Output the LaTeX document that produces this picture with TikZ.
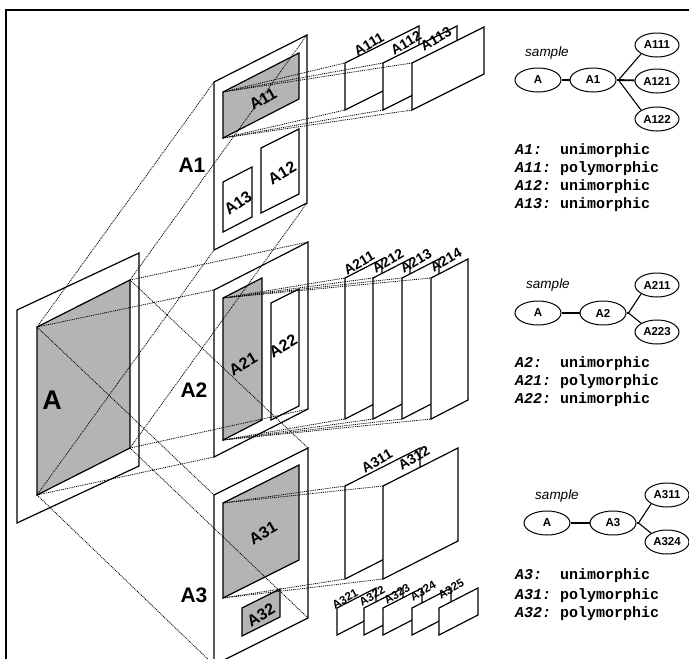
\documentclass[tikz,border=0pt]{standalone}
\usepackage{fontspec}
\setmainfont{Liberation Sans}
\newfontfamily\monofont{Liberation Mono}
\usetikzlibrary{shapes.geometric,calc}
\definecolor{shadegray}{RGB}{180,180,180}

% parallelogram with vertical sides: name, style, x, y (top left), width, rise, height
\newcommand\para[7]{%
  \coordinate (#1-tl) at (#3,#4);
  \coordinate (#1-tr) at ($(#1-tl)+(#5,-#6)$);
  \coordinate (#1-br) at ($(#1-tr)+(0,#7)$);
  \coordinate (#1-bl) at ($(#1-tl)+(0,#7)$);
  \path[#2] (#1-tl) -- (#1-tr) -- (#1-br) -- (#1-bl) -- cycle;}

\tikzset{
  pln/.style={draw=black, line width=1.2pt, fill=white, line join=miter},
  shd/.style={draw=black, line width=1.2pt, fill=shadegray, line join=miter},
  proj/.style={draw=black, line width=0.8pt, dash pattern=on 1pt off 0.9pt},
  hugel/.style={inner sep=0, font=\fontsize{27}{27}\selectfont\bfseries},
  bigl/.style={inner sep=0, font=\fontsize{21}{21}\selectfont\bfseries},
  inl/.style={inner sep=0, rotate=30, font=\fontsize{16}{16}\selectfont\bfseries},
  chl/.style={inner sep=0, rotate=30, font=\fontsize{14}{14}\selectfont\bfseries},
  smallchl/.style={inner sep=0, rotate=30, font=\fontsize{11.5}{11.5}\selectfont\bfseries},
  ell/.style={ellipse, draw, line width=1pt, minimum width=46pt, minimum height=24pt,
    inner sep=0, font=\fontsize{11.5}{11.5}\selectfont\bfseries},
  ellc/.style={ell, minimum width=44pt},
  conn/.style={line width=1.1pt},
  thickconn/.style={line width=1.8pt},
  smp/.style={inner sep=0, font=\fontsize{13.5}{13.5}\selectfont\itshape},
  row/.style={anchor=mid west, inner sep=0, font=\monofont\fontsize{15}{15}\selectfont\bfseries},
}

\begin{document}
\begin{tikzpicture}[x=1pt,y=-1pt]
\useasboundingbox (0,0) rectangle (689,659);
\begin{scope}
\clip (0,0) rectangle (689,659);

% outer frame
\draw[line width=1.6pt] (6,700) -- (6,10) -- (720,10);

% top level plane A
\para{Ap}{pln}{17}{310}{122}{57}{213}
\para{Ag}{shd}{37}{327}{93}{47}{168}

% plane A1
\para{A1p}{pln}{214}{82}{93}{47}{168}
\para{A11}{shd}{223}{92}{76}{39}{46}
\para{A12}{pln}{261}{148}{38}{19}{65}
\para{A13}{pln}{223}{182}{29}{15}{50}

% plane A2
\para{A2p}{pln}{214}{290}{94}{48}{167}
\para{A21}{shd}{223}{298}{39}{20}{142}
\para{A22}{pln}{271}{303}{28}{14}{117}

% plane A3
\para{A3p}{pln}{214}{495}{94}{47}{170}
\para{A31}{shd}{223}{503}{76}{38}{95}
\para{A32}{shd}{242}{608}{38}{19}{28}

% children of A11
\para{A111}{pln}{345}{63}{74}{37}{47}
\para{A112}{pln}{383}{63}{74}{37}{47}
\para{A113}{pln}{412}{63}{72}{36}{47}

% children of A21
\para{A211}{pln}{345}{278}{37}{19}{141}
\para{A212}{pln}{373}{278}{37}{19}{141}
\para{A213}{pln}{402}{278}{37}{19}{141}
\para{A214}{pln}{431}{278}{37}{19}{141}

% children of A31
\para{A311}{pln}{345}{486}{75}{38}{93}
\para{A312}{pln}{383}{486}{75}{38}{93}

% children of A32
\para{A321}{pln}{337}{608}{39}{20}{27}
\para{A322}{pln}{364}{608}{39}{20}{27}
\para{A323}{pln}{383}{608}{39}{20}{27}
\para{A324}{pln}{412}{608}{39}{20}{27}
\para{A325}{pln}{439}{608}{39}{20}{27}

% projections of A onto A1, A2, A3
\foreach \p in {A1p,A2p,A3p}{
  \foreach \c in {tl,tr,br,bl}{
    \draw[proj] (Ag-\c) -- (\p-\c);
  }
}
% projections of the polymorphic regions onto their children
\foreach \k in {A111,A112,A113}{
  \draw[proj] (A11-tl) -- (\k-tl);
  \draw[proj] (A11-bl) -- (\k-bl);
}
\foreach \k in {A211,A212,A213,A214}{
  \draw[proj] (A21-tl) -- (\k-tl);
  \draw[proj] (A21-bl) -- (\k-bl);
}
\foreach \k in {A311,A312}{
  \draw[proj] (A31-tl) -- (\k-tl);
  \draw[proj] (A31-bl) -- (\k-bl);
}

% plane labels
\node[hugel] (lA) at (52,400) {A};
\node[bigl] (lA1) at (192,165) {A1};
\node[bigl] (lA2) at (194,390) {A2};
\node[bigl] (lA3) at (194,595) {A3};
\node[inl] (lA11) at (263,99) {A11};
\node[inl] (lA12) at (282,173) {A12};
\node[inl, rotate=5] (lA13) at (238,203) {A13};
\node[inl] (lA21) at (243,364) {A21};
\node[inl] (lA22) at (283,346) {A22};
\node[inl] (lA31) at (263,533) {A31};
\node[inl] (lA32) at (261,615) {A32};

\node[chl] (lA111) at (369,44) {A111};
\node[chl] (lA112) at (406,43) {A112};
\node[chl] (lA113) at (436,39) {A113};
\node[chl] (lA211) at (359,263) {A211};
\node[chl] (lA212) at (388,261) {A212};
\node[chl] (lA213) at (416,261) {A213};
\node[chl] (lA214) at (446,260) {A214};
\node[chl] (lA311) at (377,461) {A311};
\node[chl] (lA312) at (414,458) {A312};
\node[smallchl] (lA321) at (345,599) {A321};
\node[smallchl] (lA322) at (372,596) {A322};
\node[smallchl] (lA323) at (397,594) {A323};
\node[smallchl] (lA324) at (423,591) {A324};
\node[smallchl] (lA325) at (451,589) {A325};

% sample tree for A1
\node[smp] (s1) at (547,53) {sample};
\node[ell] (t1a) at (538,80) {A};
\node[ell] (t1b) at (593,80) {A1};
\node[ellc] (t1c) at (657,45) {A111};
\node[ellc] (t1d) at (657,81) {A121};
\node[ellc] (t1e) at (657,119) {A122};
\coordinate (t1j) at ($(t1b.east)+(2,0)$);
\draw[thickconn] (t1a) -- (t1b);
\draw[conn] (t1b.east) -- (t1j);
\draw[conn] (t1j) -- (t1c.south west);
\draw[thickconn] (t1j) -- (t1d);
\draw[conn] (t1j) -- (t1e.north west);

\node[row] (r11) at (515,152) {{\itshape A1:}\ \ unimorphic};
\node[row] (r12) at (515,170) {{\itshape A11:}\ polymorphic};
\node[row] (r13) at (515,188) {{\itshape A12:}\ unimorphic};
\node[row] (r14) at (515,206) {{\itshape A13:}\ unimorphic};

% sample tree for A2
\node[smp] (s2) at (548,285) {sample};
\node[ell] (t2a) at (538,313) {A};
\node[ell] (t2b) at (603,313) {A2};
\node[ellc] (t2c) at (657,285) {A211};
\node[ellc] (t2d) at (657,332) {A223};
\coordinate (t2j) at ($(t2b.east)+(2,0)$);
\draw[conn] (t2a) -- (t2b);
\draw[conn] (t2b.east) -- (t2j);
\draw[conn] (t2j) -- (t2c.south west);
\draw[conn] (t2j) -- (t2d.north west);

\node[row] (r21) at (515,365) {{\itshape A2:}\ \ unimorphic};
\node[row] (r22) at (515,383) {{\itshape A21:}\ polymorphic};
\node[row] (r23) at (515,401) {{\itshape A22:}\ unimorphic};

% sample tree for A3
\node[smp] (s3) at (557,496) {sample};
\node[ell] (t3a) at (547,523) {A};
\node[ell] (t3b) at (613,523) {A3};
\node[ellc] (t3c) at (667,495) {A311};
\node[ellc] (t3d) at (667,542) {A324};
\coordinate (t3j) at ($(t3b.east)+(2,0)$);
\draw[thickconn] (t3a) -- (t3b);
\draw[conn] (t3b.east) -- (t3j);
\draw[conn] (t3j) -- (t3c.south west);
\draw[conn] (t3j) -- (t3d.north west);

\node[row] (r31) at (515,577) {{\itshape A3:}\ \ unimorphic};
\node[row] (r32) at (515,597) {{\itshape A31:}\ polymorphic};
\node[row] (r33) at (515,615) {{\itshape A32:}\ polymorphic};
\end{scope}
\end{tikzpicture}
\end{document}
